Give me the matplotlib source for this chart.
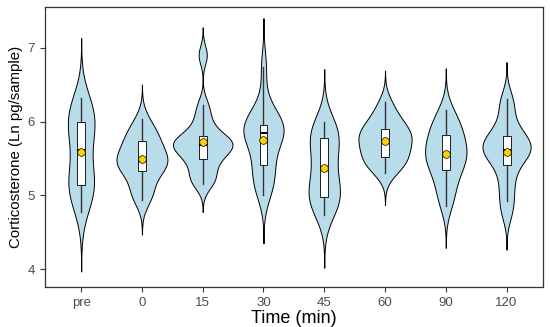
"""
Violin + box plot of corticosterone over sampling time.
"""

import numpy as np
import matplotlib
matplotlib.use('Agg')
import matplotlib.pyplot as plt
from matplotlib import mlab

TIMES = ['pre', '0', '15', '30', '45', '60', '90', '120']

# ln corticosterone (pg/sample) per animal
PRE = [4.78, 4.95, 5.05, 5.10, 5.14, 5.22, 5.30, 5.45, 5.62,
       5.75, 5.85, 5.93, 5.99, 6.08, 6.15, 6.22, 6.32]
T0 = [4.94, 5.02, 5.10, 5.25, 5.33, 5.38, 5.42, 5.45, 5.47,
      5.53, 5.56, 5.62, 5.73, 5.76, 5.82, 5.90, 6.03]
T15 = [5.15, 5.22, 5.30, 5.42, 5.49, 5.56, 5.61, 5.65, 5.68,
       5.71, 5.74, 5.77, 5.80, 5.92, 6.05, 6.22, 6.90]
T30 = [5.01, 5.12, 5.22, 5.33, 5.41, 5.55, 5.68, 5.78, 5.84,
       5.87, 5.90, 5.93, 5.95, 6.00, 6.08, 6.25, 6.74]
T45 = [4.74, 4.85, 4.92, 4.96, 4.98, 5.05, 5.15, 5.22, 5.37,
       5.45, 5.55, 5.70, 5.78, 5.81, 5.85, 5.93, 5.99]
T60 = [5.30, 5.38, 5.44, 5.49, 5.52, 5.58, 5.64, 5.70, 5.74,
       5.78, 5.82, 5.86, 5.90, 5.96, 6.03, 6.12, 6.26]
T90 = [4.86, 5.00, 5.12, 5.25, 5.35, 5.42, 5.48, 5.52, 5.55,
       5.62, 5.68, 5.75, 5.82, 5.88, 5.95, 6.04, 6.15]
T120 = [4.76, 4.92, 5.10, 5.25, 5.41, 5.50, 5.56, 5.60, 5.62,
        5.66, 5.70, 5.75, 5.81, 5.86, 6.00, 6.20, 6.31]

# kernel bandwidth of each violin (ln units)
BANDWIDTH = [0.27, 0.157, 0.125, 0.22, 0.24, 0.143, 0.19, 0.165]

MAX_WIDTH = 0.98  # widest violin, in category units
FILL = '#b9dcea'


def violin_stats(x, bw):
    x = np.asarray(x, dtype=float)
    kde = mlab.GaussianKDE(x, bw_method=bw / x.std(ddof=1))
    # untrimmed violin: density runs 3 bandwidths past the data
    coords = np.linspace(x.min() - 3 * bw, x.max() + 3 * bw, 300)
    return dict(coords=coords, vals=kde.evaluate(coords), mean=x.mean(),
                median=np.median(x), min=x.min(), max=x.max())


plt.rcParams['font.family'] = ['Liberation Sans', 'DejaVu Sans']

groups = [PRE, T0, T15, T30, T45, T60, T90, T120]
pos = np.arange(1, len(TIMES) + 1)
stats = [violin_stats(g, b) for g, b in zip(groups, BANDWIDTH)]
peaks = np.array([s['vals'].max() for s in stats])
widths = MAX_WIDTH * peaks / peaks.max()  # same area for every violin

fig = plt.figure(figsize=(5.5, 3.27), dpi=100)
ax = fig.add_axes([0.0813, 0.1223, 0.906, 0.8563])

vp = ax.violin(stats, positions=pos, widths=widths,
               showmeans=False, showextrema=False, showmedians=False)
for body in vp['bodies']:
    body.set_facecolor(FILL)
    body.set_edgecolor('black')
    body.set_linewidth(0.7)
    body.set_alpha(1)

ax.boxplot(groups, positions=pos, widths=0.13, whis=1.5, showfliers=False,
           showcaps=False, showmeans=True, patch_artist=True,
           boxprops=dict(facecolor='white', edgecolor='black', linewidth=0.6),
           whiskerprops=dict(color='#333333', linewidth=1.0),
           medianprops=dict(color='black', linewidth=1.4),
           meanprops=dict(marker='o', markerfacecolor='#ffd200',
                          markeredgecolor='black', markeredgewidth=0.5,
                          markersize=5.5))

ax.set_xlim(0.4, 8.6)
ax.set_ylim(3.76, 7.55)
ax.set_xticks(pos)
ax.set_xticklabels(TIMES)
ax.set_yticks([4, 5, 6, 7])
ax.tick_params(colors='#333333', labelcolor='#4d4d4d', labelsize=9.5,
               length=3.5, width=0.8)
for sp in ax.spines.values():
    sp.set_color('#333333')
    sp.set_linewidth(0.9)

ax.set_xlabel('Time (min)', fontsize=13, color='black', labelpad=1)
ax.set_ylabel('Corticosterone (Ln pg/sample)', fontsize=10.8, color='black', labelpad=3)

fig.savefig('out.png', dpi=100)
